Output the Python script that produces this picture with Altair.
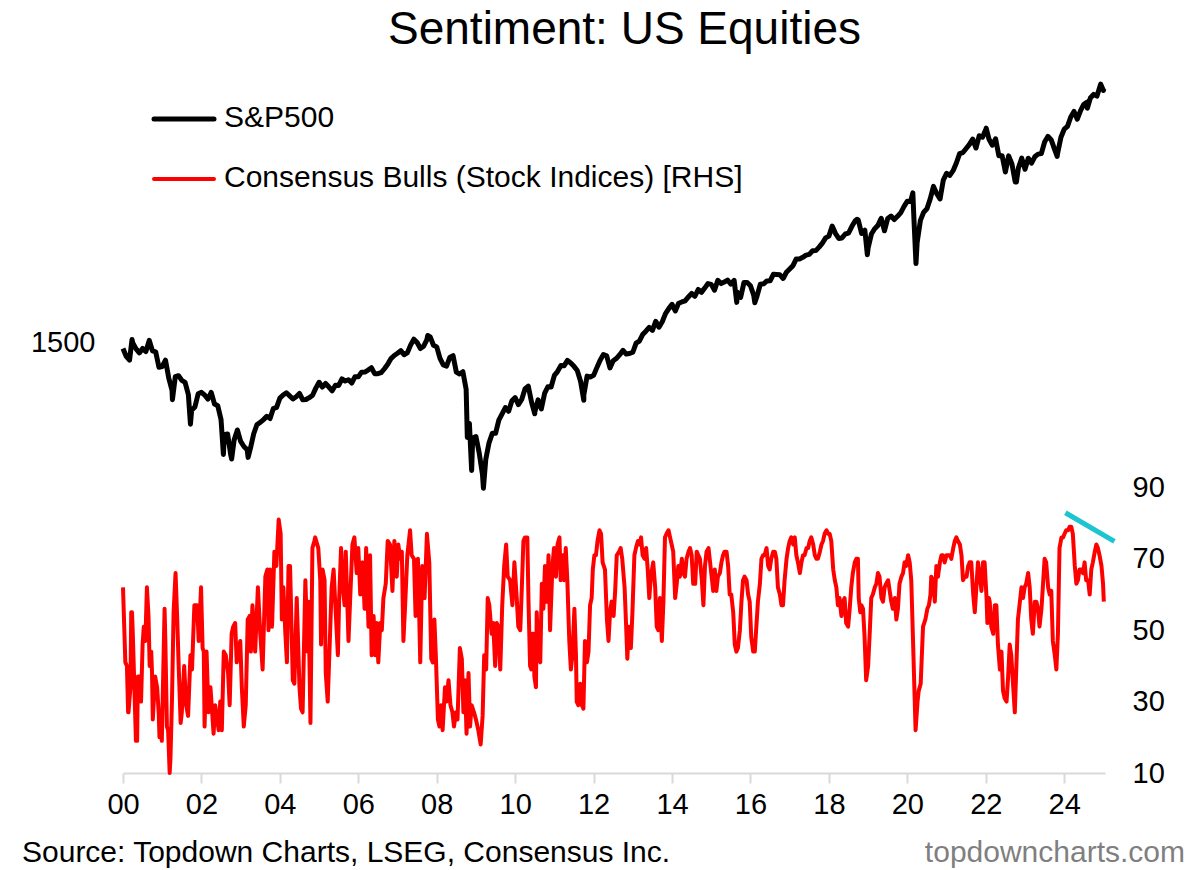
import altair as alt
import pandas as pd

# ---------------- text ----------------
TITLE = "Sentiment: US Equities"
SERIES_SP = "S&P500"
SERIES_BULLS = "Consensus Bulls (Stock Indices) [RHS]"
SOURCE = "Source: Topdown Charts, LSEG, Consensus Inc."
SITE = "topdowncharts.com"

# ---------------- axes ----------------
x_ticks = list(range(2000, 2025, 2))
left_ticks = [1500]
right_ticks = [10, 30, 50, 70, 90]

# ---------------- S&P 500 month-end closes ----------------
sp_2000_2004 = [
    1394, 1366, 1499, 1452, 1421, 1455, 1431, 1518, 1437, 1429, 1315, 1320,
    1366, 1240, 1160, 1249, 1256, 1224, 1211, 1134, 1041, 1060, 1139, 1148,
    1130, 1107, 1147, 1077, 1067, 990, 912, 916, 815, 886, 936, 880,
    856, 841, 848, 917, 964, 975, 990, 1008, 996, 1051, 1058, 1112,
    1131, 1145, 1126, 1107, 1121, 1141, 1102, 1104, 1115, 1130, 1174, 1212,
]
sp_2005_2009 = [
    1181, 1204, 1181, 1157, 1192, 1191, 1234, 1220, 1229, 1207, 1249, 1248,
    1280, 1281, 1295, 1311, 1270, 1270, 1277, 1304, 1336, 1378, 1401, 1418,
    1438, 1407, 1421, 1482, 1531, 1503, 1455, 1474, 1527, 1549, 1481, 1468,
    1379, 1331, 1323, 1386, 1400, 1280, 1267, 1283, 1166, 969, 896, 903,
    826, 735, 798, 873, 919, 919, 987, 1021, 1057, 1036, 1096, 1115,
]
sp_2010_2014 = [
    1074, 1104, 1169, 1187, 1089, 1031, 1102, 1049, 1141, 1183, 1181, 1258,
    1286, 1327, 1326, 1364, 1345, 1321, 1292, 1219, 1131, 1253, 1247, 1258,
    1312, 1366, 1408, 1398, 1310, 1362, 1379, 1407, 1441, 1412, 1416, 1426,
    1498, 1515, 1569, 1598, 1631, 1606, 1686, 1633, 1682, 1757, 1806, 1848,
    1783, 1859, 1872, 1884, 1924, 1960, 1931, 2003, 1972, 2018, 2068, 2059,
]
sp_2015_2019 = [
    1995, 2105, 2068, 2086, 2107, 2063, 2104, 1972, 1920, 2079, 2080, 2044,
    1940, 1932, 2060, 2065, 2097, 2099, 2174, 2171, 2168, 2126, 2199, 2239,
    2279, 2364, 2363, 2384, 2412, 2423, 2470, 2472, 2519, 2575, 2648, 2674,
    2824, 2714, 2641, 2648, 2705, 2718, 2816, 2902, 2914, 2712, 2760, 2507,
    2704, 2784, 2834, 2946, 2752, 2942, 2980, 2926, 2977, 3038, 3141, 3231,
]
sp_2020_2024 = [
    3226, 2954, 2585, 2912, 3044, 3100, 3271, 3500, 3363, 3270, 3622, 3756,
    3714, 3811, 3973, 4181, 4204, 4298, 4395, 4523, 4308, 4605, 4567, 4766,
    4516, 4374, 4530, 4132, 4132, 3785, 4130, 3955, 3586, 3872, 4080, 3840,
    4077, 3970, 4109, 4169, 4180, 4450, 4589, 4508, 4288, 4194, 4568, 4770,
    4846, 5096, 5254, 5036, 5278, 5460, 5522, 5648, 5762, 5705, 6032, 5882,
]
# intra-month highs / lows (decimal year, level)
sp_extremes = [
    (2000.00, 1455), (2000.23, 1527), (2000.67, 1520), (2001.26, 1103),
    (2001.72, 966), (2002.56, 820), (2002.77, 800), (2003.19, 807),
    (2007.77, 1561), (2008.78, 899), (2008.89, 752), (2009.19, 683),
    (2010.50, 1022), (2011.75, 1099), (2015.65, 1868), (2016.11, 1864),
    (2018.72, 2930), (2018.98, 2417), (2020.14, 3380), (2020.22, 2305),
    (2022.01, 4797), (2022.78, 3583), (2023.82, 4117), (2024.59, 5345),
    (2024.93, 6090), (2025.01, 5942),
]

# ---------------- Consensus Bulls (decimal year, % bulls) ----------------
bulls_2000_2004 = [
    (2000.00, 62), (2000.06, 41), (2000.10, 40), (2000.13, 27), (2000.14, 27), (2000.19, 34),
    (2000.21, 55), (2000.23, 55), (2000.25, 49), (2000.29, 34), (2000.33, 19), (2000.36, 19),
    (2000.38, 37), (2000.42, 37), (2000.46, 30), (2000.50, 46), (2000.53, 51), (2000.57, 47),
    (2000.61, 62), (2000.65, 54), (2000.68, 40), (2000.72, 44), (2000.74, 38), (2000.76, 25),
    (2000.82, 37), (2000.87, 34), (2000.91, 27), (2000.93, 20), (2000.98, 23), (2000.99, 19),
    (2001.06, 56), (2001.08, 47), (2001.12, 23), (2001.15, 22), (2001.19, 10), (2001.21, 14),
    (2001.25, 31), (2001.29, 55), (2001.34, 66), (2001.38, 54), (2001.42, 40), (2001.47, 24),
    (2001.50, 27), (2001.56, 40), (2001.61, 29), (2001.66, 26), (2001.72, 43), (2001.76, 39),
    (2001.82, 57), (2001.89, 57), (2001.93, 47), (2001.99, 62),
    (2002.03, 45), (2002.06, 44), (2002.08, 23), (2002.13, 44), (2002.18, 27), (2002.23, 34),
    (2002.31, 21), (2002.35, 29), (2002.44, 22), (2002.48, 30), (2002.52, 22), (2002.57, 44),
    (2002.62, 43), (2002.68, 38), (2002.72, 29), (2002.77, 49), (2002.81, 51), (2002.86, 52),
    (2002.90, 41), (2002.99, 47),
    (2003.03, 34), (2003.08, 23), (2003.13, 29), (2003.18, 53), (2003.23, 54), (2003.26, 44),
    (2003.30, 57), (2003.37, 44), (2003.44, 62), (2003.50, 49), (2003.56, 39), (2003.63, 65),
    (2003.68, 67), (2003.71, 50), (2003.75, 67), (2003.80, 51), (2003.86, 72), (2003.91, 68),
    (2003.97, 81),
    (2004.02, 77), (2004.05, 53), (2004.09, 62), (2004.14, 49), (2004.18, 41), (2004.22, 68),
    (2004.26, 68), (2004.33, 36), (2004.37, 35), (2004.43, 59), (2004.50, 34), (2004.54, 28),
    (2004.58, 27), (2004.65, 64), (2004.71, 44), (2004.73, 58), (2004.78, 24), (2004.83, 73),
    (2004.88, 75),
]
bulls_2005_2009 = [
    (2004.90, 76), (2004.98, 73), (2005.03, 64), (2005.05, 46), (2005.09, 67), (2005.14, 64),
    (2005.17, 38), (2005.22, 30), (2005.28, 49), (2005.32, 62), (2005.37, 67), (2005.41, 58),
    (2005.48, 43), (2005.51, 58), (2005.56, 73), (2005.60, 63), (2005.65, 57), (2005.68, 72),
    (2005.75, 47), (2005.79, 58), (2005.85, 74), (2005.90, 76), (2005.96, 66),
    (2006.00, 73), (2006.05, 60), (2006.11, 69), (2006.16, 56), (2006.20, 73), (2006.26, 51),
    (2006.30, 71), (2006.34, 43), (2006.39, 54), (2006.43, 43), (2006.47, 52), (2006.51, 41),
    (2006.56, 52), (2006.60, 50), (2006.64, 59), (2006.70, 63), (2006.75, 75), (2006.81, 74),
    (2006.87, 61), (2006.92, 75), (2006.98, 65),
    (2007.02, 74), (2007.07, 70), (2007.11, 72), (2007.15, 47), (2007.19, 56), (2007.25, 71),
    (2007.32, 78), (2007.36, 71), (2007.42, 70), (2007.46, 54), (2007.52, 70), (2007.58, 41),
    (2007.63, 68), (2007.69, 59), (2007.75, 77), (2007.81, 69), (2007.86, 42), (2007.90, 41),
    (2007.94, 53), (2007.98, 42),
    (2008.03, 25), (2008.07, 23), (2008.11, 29), (2008.15, 22), (2008.21, 34), (2008.25, 30),
    (2008.30, 36), (2008.35, 29), (2008.40, 27), (2008.44, 23), (2008.49, 27), (2008.53, 25),
    (2008.59, 45), (2008.64, 42), (2008.68, 27), (2008.72, 36), (2008.76, 21), (2008.81, 38),
    (2008.85, 23), (2008.89, 29), (2008.95, 27),
    (2009.00, 25), (2009.06, 22), (2009.12, 18), (2009.17, 26), (2009.21, 43), (2009.26, 39),
    (2009.30, 59), (2009.34, 57), (2009.40, 49), (2009.44, 52), (2009.49, 40), (2009.53, 52),
    (2009.57, 51), (2009.62, 39), (2009.67, 57), (2009.72, 68), (2009.77, 74), (2009.81, 65),
    (2009.87, 64), (2009.93, 57), (2009.98, 69),
]
bulls_2010_2014 = [
    (2010.04, 59), (2010.08, 51), (2010.13, 50), (2010.17, 62), (2010.21, 75), (2010.25, 76),
    (2010.31, 76), (2010.34, 58), (2010.38, 40), (2010.41, 39), (2010.44, 49), (2010.47, 49),
    (2010.49, 37), (2010.53, 34), (2010.55, 55), (2010.59, 42), (2010.64, 41), (2010.68, 63),
    (2010.72, 56), (2010.76, 68), (2010.81, 58), (2010.85, 71), (2010.89, 50), (2010.95, 68),
    (2010.99, 73),
    (2011.04, 65), (2011.08, 74), (2011.13, 76), (2011.16, 64), (2011.21, 71), (2011.25, 64),
    (2011.29, 73), (2011.33, 64), (2011.38, 47), (2011.42, 39), (2011.46, 43), (2011.51, 56),
    (2011.55, 43), (2011.57, 30), (2011.61, 29), (2011.66, 35), (2011.70, 29), (2011.74, 28),
    (2011.78, 47), (2011.83, 41), (2011.87, 44), (2011.91, 57), (2011.95, 59), (2011.98, 67),
    (2012.02, 71), (2012.06, 71), (2012.10, 75), (2012.15, 78), (2012.19, 77), (2012.23, 69),
    (2012.29, 67), (2012.34, 53), (2012.38, 47), (2012.42, 55), (2012.46, 58), (2012.51, 54),
    (2012.55, 61), (2012.59, 71), (2012.65, 72), (2012.69, 73), (2012.73, 70), (2012.79, 62),
    (2012.83, 51), (2012.86, 42), (2012.90, 51), (2012.95, 45), (2012.99, 55),
    (2013.04, 71), (2013.08, 73), (2013.13, 75), (2013.17, 74), (2013.21, 76), (2013.25, 71),
    (2013.30, 70), (2013.34, 73), (2013.38, 67), (2013.42, 59), (2013.46, 65), (2013.52, 69),
    (2013.57, 62), (2013.61, 51), (2013.65, 50), (2013.69, 59), (2013.74, 47), (2013.78, 58),
    (2013.82, 76), (2013.86, 77), (2013.91, 78), (2013.95, 76), (2013.99, 74),
    (2014.03, 72), (2014.08, 59), (2014.12, 63), (2014.16, 68), (2014.20, 65), (2014.25, 70),
    (2014.29, 66), (2014.33, 65), (2014.37, 70), (2014.42, 72), (2014.46, 73), (2014.50, 71),
    (2014.54, 63), (2014.59, 63), (2014.63, 72), (2014.67, 71), (2014.71, 70), (2014.76, 64),
    (2014.80, 57), (2014.84, 68), (2014.88, 72), (2014.93, 73), (2014.97, 69),
]
bulls_2015_2019 = [
    (2015.01, 65), (2015.05, 61), (2015.09, 67), (2015.13, 61), (2015.17, 65), (2015.22, 66),
    (2015.26, 69), (2015.30, 71), (2015.34, 72), (2015.39, 72), (2015.43, 68), (2015.47, 60),
    (2015.51, 60), (2015.56, 55), (2015.60, 46), (2015.64, 44), (2015.68, 45), (2015.73, 50),
    (2015.77, 58), (2015.81, 64), (2015.85, 65), (2015.90, 64), (2015.94, 60), (2015.98, 58),
    (2016.02, 48), (2016.07, 44), (2016.11, 44), (2016.15, 51), (2016.19, 58), (2016.24, 63),
    (2016.28, 70), (2016.32, 71), (2016.36, 71), (2016.41, 73), (2016.45, 68), (2016.49, 67),
    (2016.53, 70), (2016.58, 72), (2016.62, 72), (2016.66, 70), (2016.70, 62), (2016.75, 60),
    (2016.79, 57), (2016.83, 57), (2016.87, 64), (2016.92, 70), (2016.96, 73),
    (2017.00, 75), (2017.04, 76), (2017.09, 74), (2017.13, 76), (2017.17, 71), (2017.21, 69),
    (2017.26, 66), (2017.30, 69), (2017.34, 71), (2017.38, 71), (2017.43, 73), (2017.47, 73),
    (2017.51, 75), (2017.55, 76), (2017.60, 74), (2017.64, 71), (2017.68, 70), (2017.72, 70),
    (2017.77, 72), (2017.81, 74), (2017.85, 75), (2017.89, 77), (2017.94, 78), (2017.98, 77),
    (2018.02, 77), (2018.06, 75), (2018.11, 67), (2018.15, 64), (2018.19, 62), (2018.23, 57),
    (2018.27, 59), (2018.32, 54), (2018.36, 58), (2018.40, 59), (2018.44, 52), (2018.49, 51),
    (2018.53, 56), (2018.57, 62), (2018.61, 66), (2018.66, 69), (2018.70, 70), (2018.74, 70),
    (2018.76, 59), (2018.80, 55), (2018.83, 57), (2018.87, 56), (2018.91, 48), (2018.95, 36),
    (2019.00, 40), (2019.04, 49), (2019.08, 59), (2019.12, 60), (2019.17, 62), (2019.21, 63),
    (2019.25, 66), (2019.29, 65), (2019.34, 59), (2019.38, 58), (2019.42, 62), (2019.46, 63),
    (2019.51, 64), (2019.55, 61), (2019.59, 58), (2019.63, 56), (2019.68, 59), (2019.72, 53),
    (2019.76, 56), (2019.80, 63), (2019.85, 65), (2019.89, 66), (2019.93, 69), (2019.97, 68),
]
bulls_2020_2025 = [
    (2020.02, 71), (2020.06, 69), (2020.10, 64), (2020.14, 49), (2020.21, 22), (2020.26, 30),
    (2020.29, 33), (2020.34, 35), (2020.40, 51), (2020.43, 52), (2020.46, 53), (2020.51, 56),
    (2020.55, 57), (2020.59, 60), (2020.61, 65), (2020.66, 64), (2020.70, 58), (2020.74, 68),
    (2020.78, 65), (2020.83, 69), (2020.87, 71), (2020.91, 71), (2020.95, 69),
    (2021.00, 71), (2021.04, 71), (2021.08, 71), (2021.12, 70), (2021.17, 73), (2021.21, 75),
    (2021.25, 76), (2021.29, 75), (2021.34, 74), (2021.38, 71), (2021.42, 64), (2021.46, 65),
    (2021.51, 65), (2021.55, 68), (2021.59, 69), (2021.63, 69), (2021.68, 60), (2021.72, 55),
    (2021.76, 62), (2021.80, 69), (2021.85, 65), (2021.89, 61), (2021.93, 69), (2021.97, 69),
    (2022.02, 59), (2022.04, 52), (2022.08, 59), (2022.10, 58), (2022.14, 51), (2022.19, 49),
    (2022.23, 57), (2022.27, 57), (2022.31, 46), (2022.36, 39), (2022.40, 44), (2022.44, 33),
    (2022.48, 31), (2022.53, 30), (2022.57, 37), (2022.61, 46), (2022.65, 43), (2022.70, 34),
    (2022.74, 27), (2022.78, 40), (2022.82, 53), (2022.87, 58), (2022.91, 62), (2022.95, 59),
    (2022.99, 62),
    (2023.03, 63), (2023.08, 66), (2023.12, 62), (2023.16, 53), (2023.20, 49), (2023.25, 58),
    (2023.29, 58), (2023.33, 56), (2023.37, 51), (2023.42, 56), (2023.46, 63), (2023.50, 70),
    (2023.54, 69), (2023.59, 62), (2023.63, 60), (2023.67, 61), (2023.71, 47), (2023.76, 43),
    (2023.80, 39), (2023.84, 49), (2023.88, 73), (2023.93, 76), (2023.97, 76),
    (2024.01, 77), (2024.05, 78), (2024.10, 78), (2024.14, 79), (2024.18, 79), (2024.22, 77),
    (2024.27, 68), (2024.31, 63), (2024.35, 64), (2024.39, 67), (2024.44, 67), (2024.48, 66),
    (2024.52, 69), (2024.56, 64), (2024.61, 64), (2024.65, 60), (2024.69, 67), (2024.73, 69),
    (2024.78, 72), (2024.82, 74), (2024.86, 73), (2024.90, 71), (2024.95, 68), (2024.99, 63),
    (2025.01, 58),
]
# falling-peaks trend annotation (decimal year, % bulls)
trend_line = [(2024.03, 82.9), (2025.28, 74.9)]

# ---------------- frames ----------------
sp_rows = []
for start, vals in [(2000, sp_2000_2004), (2005, sp_2005_2009), (2010, sp_2010_2014),
                    (2015, sp_2015_2019), (2020, sp_2020_2024)]:
    for i, v in enumerate(vals):
        sp_rows.append({"t": start + (i + 1) / 12.0, "v": v})
for t, v in sp_extremes:
    sp_rows.append({"t": t, "v": v})
sp_df = pd.DataFrame(sp_rows).sort_values("t").reset_index(drop=True)

bulls_df = pd.DataFrame(
    bulls_2000_2004 + bulls_2005_2009 + bulls_2010_2014 + bulls_2015_2019 + bulls_2020_2025,
    columns=["t", "v"],
).sort_values("t").reset_index(drop=True)
trend_df = pd.DataFrame(trend_line, columns=["t", "v"])
one = pd.DataFrame({"k": [0]})

# ---------------- styling ----------------
FONT = "Liberation Sans"
GREY_AXIS = "#d9d9d9"
W, H = 982, 714
TICK_FS = 29
TEXT_FS = 30

x_scale = alt.Scale(domain=[2000, 2025.04], nice=False, zero=False)
x_axis = alt.Axis(
    values=x_ticks, labelExpr="format(datum.value % 100, '02d')", title=None, grid=False,
    domainColor=GREY_AXIS, domainWidth=2, tickColor=GREY_AXIS, tickWidth=2, tickSize=10,
    labelFontSize=TICK_FS, labelFont=FONT, labelColor="black", labelPadding=7,
    labelFlush=False, labelOverlap=False,
)
x_enc = alt.X("t:Q", scale=x_scale, axis=x_axis)

sp_line = alt.Chart(sp_df).mark_line(color="black", strokeWidth=5, strokeJoin="round").encode(
    x=x_enc,
    y=alt.Y("v:Q", scale=alt.Scale(type="log", domain=[146.1, 6977], nice=False),
            axis=alt.Axis(orient="left", values=left_ticks, format="d", title=None, grid=False,
                          domain=False, ticks=False, labelFontSize=TICK_FS, labelFont=FONT,
                          labelColor="black", labelPadding=28)),
)

bulls_line = alt.Chart(bulls_df).mark_line(color="#ff0000", strokeWidth=4, strokeJoin="round").encode(
    x=x_enc,
    y=alt.Y("v:Q", scale=alt.Scale(domain=[10, 210], nice=False, zero=False),
            axis=alt.Axis(orient="right", values=right_ticks, title=None, grid=False,
                          domain=False, ticks=False, labelFontSize=TICK_FS, labelFont=FONT,
                          labelColor="black", labelPadding=27)),
)

trend = alt.Chart(trend_df).mark_line(color="#1cc5cf", strokeWidth=5).encode(
    x=x_enc,
    y=alt.Y("v:Q", scale=alt.Scale(domain=[10, 210], nice=False, zero=False), axis=None),
)

def text(label, x, y, size, align="left", baseline="alphabetic", color="black"):
    return alt.Chart(one).mark_text(
        text=label, font=FONT, fontSize=size, align=align, baseline=baseline, color=color
    ).encode(x=alt.value(x), y=alt.value(y))

def key(color, width, y):
    return alt.Chart(one).mark_rule(color=color, strokeWidth=width, strokeCap="round").encode(
        x=alt.value(31), x2=alt.value(91), y=alt.value(y)
    )

title = text(TITLE, 501.5, -15, 46, align="center")
leg1_line = key("black", 5, 60)
leg1_text = text(SERIES_SP, 101, 59, TEXT_FS, baseline="middle")
leg2_line = key("#ff0000", 4, 120)
leg2_text = text(SERIES_BULLS, 101, 119, TEXT_FS, baseline="middle")
source = text(SOURCE, -101, 803, TEXT_FS)
site = text(SITE, 1062, 803, TEXT_FS, align="right", color="#7f7f7f")

chart = alt.layer(
    sp_line, bulls_line, trend,
    title, leg1_line, leg1_text, leg2_line, leg2_text, source, site,
).resolve_scale(y="independent").properties(
    width=W, height=H,
    autosize=alt.AutoSizeParams(type="none"),
    padding={"left": 115, "top": 51, "right": 82, "bottom": 97},
    background="white",
).configure_view(stroke=None)

chart.save("out.html", embed_options={"renderer": "svg", "actions": False})
